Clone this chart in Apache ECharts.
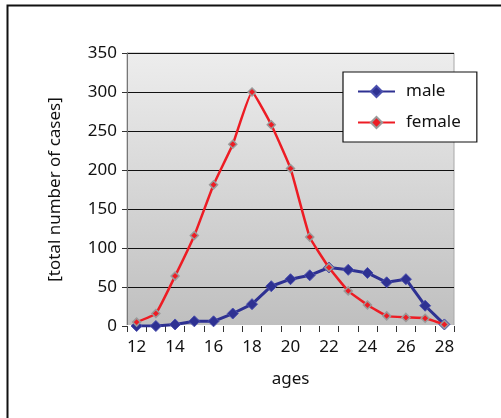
<!DOCTYPE html>
<html>
<head>
<meta charset="utf-8">
<script src="https://cdn.jsdelivr.net/npm/echarts@6/dist/echarts.min.js"></script>
<style>
  html, body { margin: 0; padding: 0; background: #fff; }
  #chart { width: 501px; height: 418px; }
</style>
</head>
<body>
<div id="chart"></div>
<script>
// Age categories on the x axis
const ages = ['12','13','14','15','16','17','18','19','20','21','22','23','24','25','26','27','28'];
// Total number of cases per age
const maleCases   = [0, 0, 2, 6, 6, 16, 28, 51, 60, 65, 75, 72, 68, 56, 60, 26, 2];
const femaleCases = [5, 16, 64, 116, 181, 233, 300, 258, 202, 114, 75, 45, 27, 13, 11, 10, 2];

const FONT = '"Noto Sans", "Open Sans", sans-serif';

const chart = echarts.init(document.getElementById('chart'), null, { renderer: 'canvas' });

chart.setOption({
  animation: false,
  backgroundColor: '#ffffff',
  textStyle: { fontFamily: FONT },
  graphic: [{
    type: 'rect',
    silent: true,
    z: -1,
    shape: { x: 7.5, y: 5.5, width: 700, height: 700 },
    style: { fill: 'none', stroke: '#111', lineWidth: 2 }
  }],
  grid: {
    left: 127, right: 47, top: 53, bottom: 92,
    show: true,
    borderColor: '#a8a8a8',
    borderWidth: 1,
    backgroundColor: {
      type: 'linear', x: 0, y: 0, x2: 0, y2: 1,
      colorStops: [
        { offset: 0, color: '#ededed' },
        { offset: 1, color: '#bfbfbf' }
      ]
    }
  },
  legend: {
    orient: 'vertical',
    left: 343, top: 72,
    padding: [11, 16, 11, 14],
    itemGap: 14,
    itemWidth: 37, itemHeight: 14,
    backgroundColor: '#ffffff',
    borderColor: '#111',
    borderWidth: 1.2,
    textStyle: { fontSize: 17, color: '#111', fontFamily: FONT, padding: [0, 0, 0, 6] },
    data: ['male', 'female']
  },
  xAxis: {
    type: 'category',
    data: ages,
    boundaryGap: true,
    name: 'ages',
    nameLocation: 'middle',
    nameGap: 45,
    nameTextStyle: { fontSize: 17, color: '#111', fontFamily: FONT },
    axisLine: { show: true, lineStyle: { color: '#ffffff', width: 2 } },
    axisTick: { show: true, interval: 0, length: 6, lineStyle: { color: '#333' } },
    axisLabel: { interval: 1, fontSize: 17, color: '#111', margin: 13, fontFamily: FONT },
    splitLine: { show: false }
  },
  yAxis: {
    type: 'value',
    min: 0, max: 350, interval: 50,
    name: '[total number of cases]',
    nameLocation: 'middle',
    nameRotate: 90,
    nameGap: 63,
    nameTextStyle: { fontSize: 17, color: '#111', fontFamily: FONT },
    axisLine: { show: true, lineStyle: { color: '#777', width: 1 } },
    axisTick: { show: true, length: 5, lineStyle: { color: '#333' } },
    axisLabel: { fontSize: 17, color: '#111', margin: 10, fontFamily: FONT },
    splitLine: { show: true, lineStyle: { color: '#111', width: 1 } }
  },
  series: [
    {
      name: 'male',
      type: 'line',
      data: maleCases,
      symbol: 'diamond',
      symbolSize: 11,
      lineStyle: { color: '#2e3192', width: 3 },
      itemStyle: { color: '#2e3192', borderColor: '#4a4fae', borderWidth: 1 },
      z: 2
    },
    {
      name: 'female',
      type: 'line',
      data: femaleCases,
      smooth: 0.12,
      symbol: 'diamond',
      symbolSize: 8,
      lineStyle: { color: '#ed1c24', width: 2.5 },
      itemStyle: { color: '#ed1c24', borderColor: '#9a9a9a', borderWidth: 1.5 },
      z: 3
    }
  ]
});
</script>
</body>
</html>
